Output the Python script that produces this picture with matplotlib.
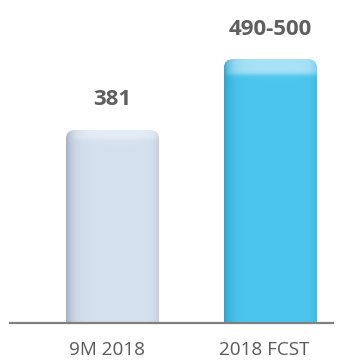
import numpy as np
import matplotlib
matplotlib.use("Agg")
import matplotlib.pyplot as plt
from matplotlib.patches import FancyBboxPatch
from matplotlib.colors import to_rgb
from matplotlib.transforms import ScaledTranslation

categories = ["9M 2018", "2018 FCST"]
values = [381, 500]
value_labels = ["381", "490-500"]

body_colors = ["#d6e1ef", "#4cc6ee"]
edge_colors = ["#9eabbe", "#2a9fca"]
cap_colors = ["#e4ecf6", "#a8e2f6"]
cap_px = [10, 16]

plt.rcParams['font.family'] = ['Open Sans', 'DejaVu Sans']

W, H, DPI = 347, 361, 100
fig = plt.figure(figsize=(W / DPI, H / DPI), dpi=DPI)
ax = fig.add_axes([10 / W, (H - 322.5) / H, 323 / W, 322.5 / H])
ax.set_xlim(-0.649, 1.396)
ax.set_ylim(58, 599)

bars = ax.bar(range(len(values)), values, width=0.589, color='none')

# pixels per data unit, used for corner rounding and shading bands
px_x = 323 / (1.396 + 0.649)
px_y = 322.5 / (599 - 58)
aspect = px_x / px_y
radius = 9 / px_x

for i, rect in enumerate(bars):
    x0, y0 = rect.get_x(), rect.get_y()
    w, h = rect.get_width(), rect.get_height()
    clip = FancyBboxPatch((x0, y0), w, h,
                          boxstyle=f"round,pad=0,rounding_size={radius}",
                          mutation_aspect=aspect, fc='none', ec='none')
    ax.add_patch(clip)

    ncol, nrow = 120, 400
    t = np.linspace(0, 1, ncol)
    shade = np.clip(np.exp(-t / 0.07) + 0.45 * np.exp(-(1 - t) / 0.05), 0, 1)
    body = np.array(to_rgb(body_colors[i]))
    edge = np.array(to_rgb(edge_colors[i]))
    cap = np.array(to_rgb(cap_colors[i]))
    row_px = np.linspace(0, h * px_y, nrow)
    capw = 1 / (1 + np.exp((row_px - cap_px[i]) / 1.2))
    base = body[None, :] * (1 - capw[:, None]) + cap[None, :] * capw[:, None]
    img = base[:, None, :] * (1 - shade[None, :, None] * 0.9) + \
        edge[None, None, :] * shade[None, :, None] * 0.9
    im = ax.imshow(img, extent=(x0, x0 + w, y0, y0 + h), origin='upper',
                   aspect='auto', interpolation='bilinear', zorder=2)
    im.set_clip_path(clip)

    ax.annotate(value_labels[i], (rect.get_x() + w / 2, y0 + h),
                xytext=(0, 30), textcoords='offset pixels',
                ha='center', va='center', fontsize=16, fontweight='bold',
                color='#5f5f5f', zorder=3)

ax.set_xlim(-0.649, 1.396)
ax.set_ylim(58, 599)
ax.set_xticks(range(len(categories)), categories)
ax.tick_params(axis='x', length=0, pad=13.5, labelsize=13.6, labelcolor='#595959')
shift = ScaledTranslation(-6 / DPI, 0, fig.dpi_scale_trans)
for lbl in ax.get_xticklabels():
    lbl.set_transform(lbl.get_transform() + shift)
ax.set_yticks([])
for side in ['top', 'left', 'right']:
    ax.spines[side].set_visible(False)
ax.spines['bottom'].set_color('#7f7f7f')
ax.spines['bottom'].set_linewidth(1.6)
ax.spines['bottom'].set_zorder(4)

fig.savefig("out.png", dpi=DPI)
